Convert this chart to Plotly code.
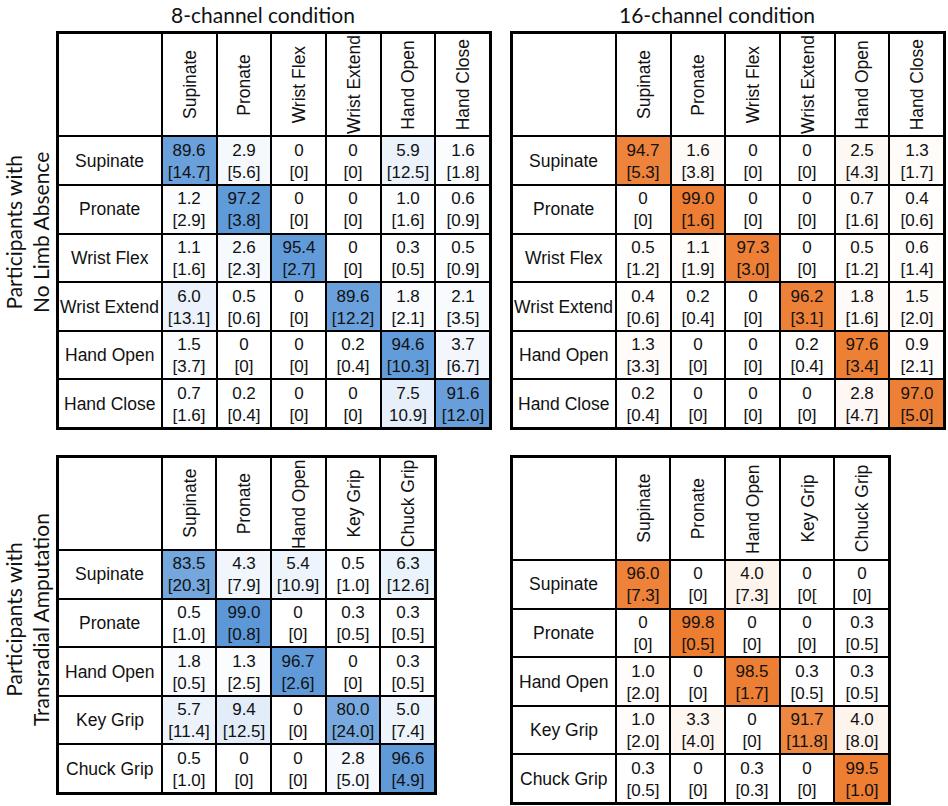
import plotly.graph_objects as go

# ---------------- data ----------------
MOVES_NLA = ["Supinate", "Pronate", "Wrist Flex", "Wrist Extend", "Hand Open", "Hand Close"]
MOVES_TRA = ["Supinate", "Pronate", "Hand Open", "Key Grip", "Chuck Grip"]

mean_8ch_nla = [
    [89.6, 2.9, 0, 0, 5.9, 1.6],
    [1.2, 97.2, 0, 0, 1.0, 0.6],
    [1.1, 2.6, 95.4, 0, 0.3, 0.5],
    [6.0, 0.5, 0, 89.6, 1.8, 2.1],
    [1.5, 0, 0, 0.2, 94.6, 3.7],
    [0.7, 0.2, 0, 0, 7.5, 91.6],
]
sd_8ch_nla = [
    [14.7, 5.6, 0, 0, 12.5, 1.8],
    [2.9, 3.8, 0, 0, 1.6, 0.9],
    [1.6, 2.3, 2.7, 0, 0.5, 0.9],
    [13.1, 0.6, 0, 12.2, 2.1, 3.5],
    [3.7, 0, 0, 0.4, 10.3, 6.7],
    [1.6, 0.4, 0, 0, 10.9, 12.0],
]
mean_16ch_nla = [
    [94.7, 1.6, 0, 0, 2.5, 1.3],
    [0, 99.0, 0, 0, 0.7, 0.4],
    [0.5, 1.1, 97.3, 0, 0.5, 0.6],
    [0.4, 0.2, 0, 96.2, 1.8, 1.5],
    [1.3, 0, 0, 0.2, 97.6, 0.9],
    [0.2, 0, 0, 0, 2.8, 97.0],
]
sd_16ch_nla = [
    [5.3, 3.8, 0, 0, 4.3, 1.7],
    [0, 1.6, 0, 0, 1.6, 0.6],
    [1.2, 1.9, 3.0, 0, 1.2, 1.4],
    [0.6, 0.4, 0, 3.1, 1.6, 2.0],
    [3.3, 0, 0, 0.4, 3.4, 2.1],
    [0.4, 0, 0, 0, 4.7, 5.0],
]
mean_8ch_tra = [
    [83.5, 4.3, 5.4, 0.5, 6.3],
    [0.5, 99.0, 0, 0.3, 0.3],
    [1.8, 1.3, 96.7, 0, 0.3],
    [5.7, 9.4, 0, 80.0, 5.0],
    [0.5, 0, 0, 2.8, 96.6],
]
sd_8ch_tra = [
    [20.3, 7.9, 10.9, 1.0, 12.6],
    [1.0, 0.8, 0, 0.5, 0.5],
    [0.5, 2.5, 2.6, 0, 0.5],
    [11.4, 12.5, 0, 24.0, 7.4],
    [1.0, 0, 0, 5.0, 4.9],
]
mean_16ch_tra = [
    [96.0, 0, 4.0, 0, 0],
    [0, 99.8, 0, 0, 0.3],
    [1.0, 0, 98.5, 0.3, 0.3],
    [1.0, 3.3, 0, 91.7, 4.0],
    [0.3, 0, 0.3, 0, 99.5],
]
sd_16ch_tra = [
    [7.3, 0, 7.3, 0, 0],
    [0, 0.5, 0, 0, 0.5],
    [2.0, 0, 1.7, 0.5, 0.5],
    [2.0, 4.0, 0, 11.8, 8.0],
    [0.5, 0, 0.3, 0, 1.0],
]
# labels printed exactly as in the original (including its typos)
sd_text_override_8ch_nla = {(5, 4): "10.9]"}
sd_text_override_16ch_tra = {(0, 3): "[0["}

TITLES = ["8-channel condition", "16-channel condition"]
ROW_GROUPS = ["Participants with<br>No Limb Absence", "Participants with<br>Transradial Amputation"]

# ---------------- style ----------------
W, H = 948, 806
BLUE = "#5b97d8"
ORANGE = "#ed7d31"
CELL_FONT = "Liberation Sans, Arial, sans-serif"
TITLE_FONT = "Lato, sans-serif"


def fmt(v):
    return "0" if v == 0 else f"{v:.1f}"


def px_x(p):
    return p / W


def px_y(p):
    return 1 - p / H


tables = [
    (mean_8ch_nla, sd_8ch_nla, sd_text_override_8ch_nla, MOVES_NLA, BLUE, 58, 490, 33, 428),
    (mean_16ch_nla, sd_16ch_nla, {}, MOVES_NLA, ORANGE, 512, 944, 33, 428),
    (mean_8ch_tra, sd_8ch_tra, {}, MOVES_TRA, BLUE, 58, 435, 457, 793),
    (mean_16ch_tra, sd_16ch_tra, sd_text_override_16ch_tra, MOVES_TRA, ORANGE, 512, 889, 457, 803),
]
LABEL_W_PX = 104
CELL_W_PX = 54.7
CELL_H_PX = 48.6

fig = go.Figure()
annotations = []

for k, (means, sds, over, moves, color, x0, x1, y0, y1) in enumerate(tables):
    n = len(moves)
    head_h_px = (y1 - y0) - n * CELL_H_PX
    lw = LABEL_W_PX / CELL_W_PX
    hh = head_h_px / CELL_H_PX
    x_edges = [-lw] + list(range(n + 1))
    y_edges = [-hh] + list(range(n + 1))

    z = [[0] * (n + 1)]
    text = [[""] * (n + 1)]
    for i in range(n):
        zr = [0]
        tr = [""]
        for j in range(n):
            zr.append(means[i][j])
            sd_t = over.get((i, j), "[" + fmt(sds[i][j]) + "]")
            tr.append(fmt(means[i][j]) + "<br>" + sd_t)
        z.append(zr)
        text.append(tr)

    ax = "" if k == 0 else str(k + 1)
    fig.add_trace(go.Heatmap(
        x=x_edges, y=y_edges, z=z, text=text, texttemplate="%{text}",
        textfont=dict(family=CELL_FONT, size=17, color="#111111"),
        colorscale=[[0, "#ffffff"], [0.08, "#e4eefa" if color == BLUE else "#fce8dc"], [1, color]],
        zmin=0, zmax=100, showscale=False, xgap=2, ygap=2, hoverinfo="skip",
        xaxis="x" + ax, yaxis="y" + ax,
    ))
    common = dict(showticklabels=False, showgrid=False, zeroline=False, showline=True,
                  mirror=True, linecolor="black", linewidth=2, ticks="", fixedrange=True)
    fig.update_layout(**{
        "xaxis" + ax: dict(domain=[px_x(x0), px_x(x1)], range=[x_edges[0], x_edges[-1]],
                           anchor="y" + ax, **common),
        "yaxis" + ax: dict(domain=[px_y(y1), px_y(y0)], range=[y_edges[-1], y_edges[0]],
                           anchor="x" + ax, **common),
    })
    xr, yr = "x" + ax, "y" + ax
    for i, m in enumerate(moves):
        annotations.append(dict(x=-lw / 2, y=i + 0.5, xref=xr, yref=yr, text=m, showarrow=False,
                                font=dict(family=CELL_FONT, size=17.5, color="#111111")))
        annotations.append(dict(x=i + 0.5, y=-hh / 2, xref=xr, yref=yr, text=m, showarrow=False,
                                textangle=-90, font=dict(family=CELL_FONT, size=17.5, color="#111111")))

for t, cx in zip(TITLES, [263, 717]):
    annotations.append(dict(x=px_x(cx), y=px_y(14), xref="paper", yref="paper", text=t,
                            showarrow=False, xanchor="center", yanchor="middle",
                            font=dict(family=TITLE_FONT, size=21, color="#111111")))
for t, cy in zip(ROW_GROUPS, [233, 620]):
    annotations.append(dict(x=px_x(27), y=px_y(cy), xref="paper", yref="paper", text=t,
                            showarrow=False, textangle=-90, xanchor="center", yanchor="middle",
                            font=dict(family=TITLE_FONT, size=21, color="#111111")))

fig.update_layout(width=W, height=H, margin=dict(l=0, r=0, t=0, b=0),
                  paper_bgcolor="white", plot_bgcolor="black",
                  annotations=annotations, showlegend=False)

fig.write_html("out.html", config={"displayModeBar": False},
               post_script="document.body.style.margin='0';document.body.style.overflow='hidden';")
